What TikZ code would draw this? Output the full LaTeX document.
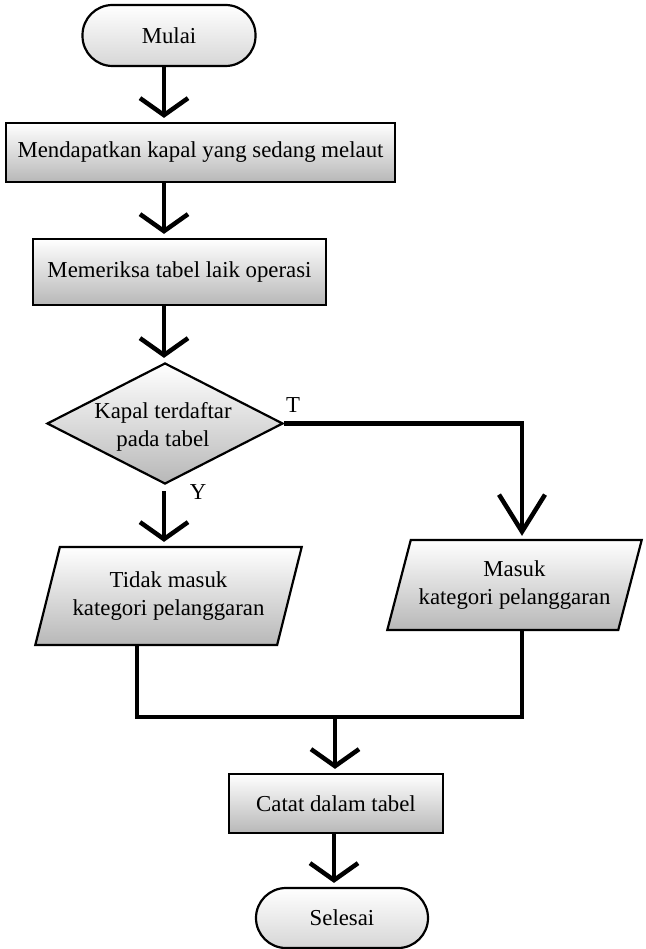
\documentclass[tikz,border=0pt]{standalone}
\usepackage{fontspec}
\setmainfont{Liberation Serif}
\usetikzlibrary{shapes.geometric,arrows.meta,calc}
\begin{document}
\begin{tikzpicture}[x=1pt,y=-1pt,
  every node/.style={font=\fontsize{22.8}{28}\selectfont},
  box/.style={draw, line width=2.2pt, top color=white, bottom color=black!28, inner sep=0pt},
  term/.style={box, rounded corners=30pt, bottom color=black!16},
  decision/.style={draw, diamond, line width=2.2pt, top color=white, bottom color=black!28, inner sep=0pt},
  io/.style={draw, trapezium, trapezium left angle=66, trapezium right angle=114, trapezium stretches=true, line width=2.2pt, top color=white, bottom color=black!28, inner sep=0pt, align=center},
  txt/.style={align=center, inner sep=0pt},
  conn/.style={line width=4.5pt},
  arr/.style={conn, -{Straight Barb[length=17pt,width=48pt]}, shorten >=4pt},
  bigarr/.style={conn, -{Straight Barb[length=37pt,width=46pt]}, shorten >=3pt},
]
\useasboundingbox (0,0) rectangle (645,949);

\node[term, minimum width=173pt, minimum height=61pt] (start) at (169,35.5) {Mulai};
\node[box, minimum width=389pt, minimum height=59pt] (b1) at (200.5,152.5) {Mendapatkan kapal yang sedang melaut};
\node[box, minimum width=293pt, minimum height=66pt] (b2) at (179.5,272) {Memeriksa tabel laik operasi};
\node[decision, minimum width=236pt, minimum height=121pt] (d) at (165,423.5) {};
\node[txt] (dt) at (163,427) {Kapal terdaftar\\pada tabel};
\node[io, minimum width=267pt, minimum height=98pt] (p1) at (168.5,596) {Tidak masuk\\kategori pelanggaran};
\node[io, minimum width=255pt, minimum height=90pt] (p2) at (514.5,585) {Masuk\\kategori pelanggaran};
\node[box, minimum width=214pt, minimum height=59pt] (c) at (336,803.5) {Catat dalam tabel};
\node[term, minimum width=172pt, minimum height=60pt] (end) at (342,918) {Selesai};

\node[inner sep=0pt] (T) at (293,405) {T};
\node[inner sep=0pt] (Y) at (198,492) {Y};

\coordinate (tr) at (164,0);
\coordinate (lx) at (137,0);
\coordinate (rx) at (522,0);
\coordinate (bx) at (334,0);
\coordinate (m) at (335,717);

\draw[arr] (start.south -| tr) -- (b1.north -| tr);
\draw[arr] (b1.south -| tr) -- (b2.north -| tr);
\draw[arr] (b2.south -| tr) -- (d.north -| tr);
\draw[arr] ([yshift=-6pt]d.south -| tr) -- (p1.north -| tr);
\draw[bigarr] (d.east) -| (p2.north -| rx);
\draw[conn] (p1.south -| lx) |- (m) -| (p2.south -| rx);
\draw[arr] (m) -- (c.north -| m);
\draw[arr] (c.south -| bx) -- (end.north -| bx);
\end{tikzpicture}
\end{document}
